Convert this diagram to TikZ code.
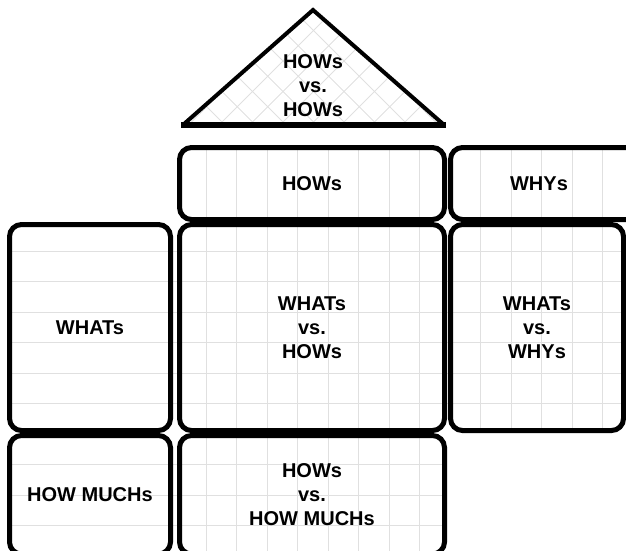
\documentclass[tikz,border=0pt]{standalone}
\usepackage{fontspec}
\setmainfont{Liberation Sans}
\begin{document}
\begin{tikzpicture}[x=1pt,y=-1pt,
  cell/.style={draw, line width=5pt, rounded corners=12pt, inner sep=0pt, align=center,
    font=\fontsize{20}{24}\selectfont\bfseries},
  lbl/.style={align=center, inner sep=0pt, font=\fontsize{20}{24}\selectfont\bfseries},
  gridline/.style={draw=black!12, line width=1pt},
  tri/.style={draw, line width=4pt, line join=miter}]
\useasboundingbox (0,0) rectangle (626,550);
\clip (0,0) rectangle (626,550);
% grid lines
\foreach \i in {0,...,7} {\draw[gridline] ({206+30.5*\i},147.5) -- ({206+30.5*\i},554);}
\foreach \i in {0,...,4} {\draw[gridline] ({480.5+30.5*\i},147.5) -- ({480.5+30.5*\i},430.5);}
\foreach \i in {0,...,5} {\draw[gridline] (9.5,{251+30.5*\i}) -- (623.5,{251+30.5*\i});}
\foreach \i in {0,...,2} {\draw[gridline] (9.5,{464.5+30.5*\i}) -- (444.5,{464.5+30.5*\i});}
% triangle
\coordinate (tl) at (184,124);
\coordinate (ta) at (313,10);
\coordinate (tr) at (443,124);
\coordinate (bl) at (181,125);
\coordinate (br) at (446,125);
\begin{scope}
  \clip (tl) -- (ta) -- (tr) -- cycle;
  \foreach \i in {0,...,20} {
    \draw[gridline, line width=0.8pt] ({100+30.5*\i},0) -- ({240+30.5*\i},140);
    \draw[gridline, line width=0.8pt] ({100+30.5*\i},0) -- ({-40+30.5*\i},140);
  }
\end{scope}
\draw[tri] (tl) -- (ta) -- (tr);
\draw[line width=6pt] (bl) -- (br);
\node[lbl] (roof) at (313,86) {HOWs\\vs.\\HOWs};
% boxes
\node[cell, minimum width=265pt, minimum height=72pt] (hows) at (312,183.5) {HOWs};
\node[cell, minimum width=230pt, minimum height=72pt] (whys) at (565.5,183.5) {};
\node[lbl] (whystext) at (539,183.5) {WHYs};
\node[cell, minimum width=161pt, minimum height=206pt] (whats) at (90,327.5) {WHATs};
\node[cell, minimum width=265pt, minimum height=206pt] (wh) at (312,327.5) {WHATs\\vs.\\HOWs};
\node[cell, minimum width=173pt, minimum height=206pt] (wy) at (537,327.5) {WHATs\\vs.\\WHYs};
\node[cell, minimum width=161pt, minimum height=118.5pt] (much) at (90,494.75) {HOW MUCHs};
\node[cell, minimum width=265pt, minimum height=118.5pt] (hm) at (312,494.75) {HOWs\\vs.\\HOW MUCHs};
\end{tikzpicture}
\end{document}
